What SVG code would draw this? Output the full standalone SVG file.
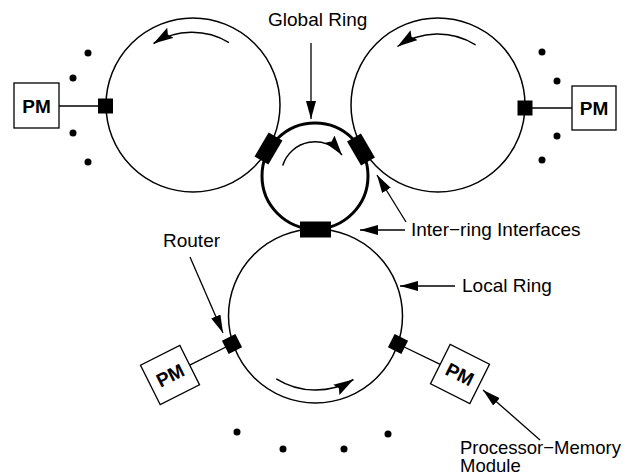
<svg xmlns="http://www.w3.org/2000/svg" width="631" height="476" viewBox="0 0 631 476">
  <style>
    .ring { fill: none; stroke: #000; stroke-width: 1.5; }
    .global { fill: none; stroke: #000; stroke-width: 3; }
    .blk { fill: #000; }
    .pm { fill: #fff; stroke: #000; stroke-width: 1.3; }
    .pmt { font-family: "Liberation Sans", Arial, Helvetica, sans-serif; font-weight: bold; font-size: 19px; text-anchor: middle; }
    .lbl { font-family: "Liberation Sans", Arial, Helvetica, sans-serif; font-size: 19px; fill: #000; }
    .small { font-size: 18.5px; }
    .wire { stroke: #000; stroke-width: 1.3; fill: none; }
    .arr { stroke: #000; stroke-width: 1.3; fill: none; marker-end: url(#head); }
    .flow { stroke: #000; stroke-width: 1.5; fill: none; marker-end: url(#flowhead); }
    .dot { fill: #000; }
  </style>
  <defs>
    <marker id="head" viewBox="0 0 18 10" refX="18" refY="5" markerWidth="18" markerHeight="10" markerUnits="userSpaceOnUse" orient="auto">
      <path d="M0,0 L18,5 L0,10 z" fill="#000"/>
    </marker>
    <marker id="flowhead" viewBox="0 0 20 12" refX="20" refY="6" markerWidth="20" markerHeight="12" markerUnits="userSpaceOnUse" orient="auto">
      <path d="M0,0 L20,6 L0,12 L3,6 z" fill="#000"/>
    </marker>
  </defs>

  <rect width="631" height="476" fill="#fff"/>

  <!-- rings -->
  <g id="ring-top-left"><circle class="ring" cx="193" cy="105" r="87"/></g>
  <g id="ring-top-right"><circle class="ring" cx="438" cy="105" r="87"/></g>
  <g id="ring-local"><circle class="ring" cx="315.5" cy="316" r="87"/></g>
  <g id="ring-global"><circle class="global" cx="315" cy="176" r="53"/></g>

  <!-- connectors: PM links, direction arrows, label pointers -->
  <g id="connectors">
    <line class="wire" x1="59" y1="106" x2="105" y2="106"/>
    <line class="wire" x1="525" y1="108" x2="572" y2="108"/>
    <line class="wire" x1="232" y1="344" x2="189.7" y2="365.2"/>
    <line class="wire" x1="398" y1="344" x2="440.2" y2="364.4"/>

    <path class="flow" d="M229,42.6 A72,72 0 0 0 153.5,43.5"/>
    <path class="flow" d="M475.6,44.8 A71,71 0 0 0 397.5,46.5"/>
    <path class="flow" d="M282.7,165.5 A34,34 0 0 1 342,155"/>
    <path class="flow" d="M276.3,378.8 A74,74 0 0 0 353.5,379.5"/>

    <line class="arr" x1="311" y1="43" x2="311" y2="119"/>
    <line class="arr" x1="405" y1="230" x2="360" y2="230"/>
    <line class="arr" x1="406" y1="222" x2="377" y2="175"/>
    <line class="arr" x1="455" y1="286" x2="400" y2="286"/>
    <line class="arr" x1="190" y1="257" x2="223" y2="333"/>
    <line class="arr" x1="540" y1="440" x2="483" y2="390"/>
  </g>

  <!-- inter-ring interfaces -->
  <g id="iri-left"><rect class="blk" x="-8" y="-14" width="16" height="28" transform="translate(268.5,148.5) rotate(30.2)"/></g>
  <g id="iri-right"><rect class="blk" x="-8" y="-14" width="16" height="28" transform="translate(361,149.5) rotate(-30)"/></g>
  <g id="iri-bottom"><rect class="blk" x="-15.5" y="-8" width="31" height="16" transform="translate(315.5,229.5)"/></g>

  <!-- routers -->
  <g id="router-top-left"><rect class="blk" x="98" y="98.5" width="15" height="15"/></g>
  <g id="router-top-right"><rect class="blk" x="517.5" y="100.5" width="15" height="15"/></g>
  <g id="router-local-left"><rect class="blk" x="-7.5" y="-7.5" width="15" height="15" transform="translate(232,344) rotate(-26.6)"/></g>
  <g id="router-local-right"><rect class="blk" x="-7.5" y="-7.5" width="15" height="15" transform="translate(398,344) rotate(26.6)"/></g>

  <!-- processor-memory modules -->
  <g id="pm-top-left">
    <rect class="pm" x="14" y="83" width="45" height="45"/>
    <text class="pmt" x="36.5" y="112.5">PM</text>
  </g>
  <g id="pm-top-right">
    <rect class="pm" x="572" y="86" width="44" height="44"/>
    <text class="pmt" x="594" y="115">PM</text>
  </g>
  <g id="pm-local-left" transform="translate(170,375) rotate(-26.6)">
    <rect class="pm" x="-22" y="-22" width="44" height="44"/>
    <text class="pmt" x="0" y="7">PM</text>
  </g>
  <g id="pm-local-right" transform="translate(460,374) rotate(26.6)">
    <rect class="pm" x="-22" y="-22" width="44" height="44"/>
    <text class="pmt" x="0" y="7">PM</text>
  </g>

  <!-- ellipsis dots -->
  <g id="dots">
    <circle class="dot" cx="88" cy="53" r="3.5"/>
    <circle class="dot" cx="73" cy="78" r="3.5"/>
    <circle class="dot" cx="73" cy="133" r="3.5"/>
    <circle class="dot" cx="88" cy="162" r="3.5"/>
    <circle class="dot" cx="542" cy="52" r="3.5"/>
    <circle class="dot" cx="557" cy="81" r="3.5"/>
    <circle class="dot" cx="557" cy="136" r="3.5"/>
    <circle class="dot" cx="542" cy="160" r="3.5"/>
    <circle class="dot" cx="237" cy="432" r="3.5"/>
    <circle class="dot" cx="283" cy="449" r="3.5"/>
    <circle class="dot" cx="344" cy="449" r="3.5"/>
    <circle class="dot" cx="388" cy="434" r="3.5"/>
  </g>

  <!-- labels -->
  <g id="labels">
    <text class="lbl" x="268" y="26">Global Ring</text>
    <text class="lbl" x="411" y="236">Inter−ring Interfaces</text>
    <text class="lbl" x="462" y="292">Local Ring</text>
    <text class="lbl" x="163" y="247">Router</text>
    <text class="lbl small" x="460" y="454">Processor−Memory</text>
    <text class="lbl small" x="460" y="472">Module</text>
  </g>
</svg>
